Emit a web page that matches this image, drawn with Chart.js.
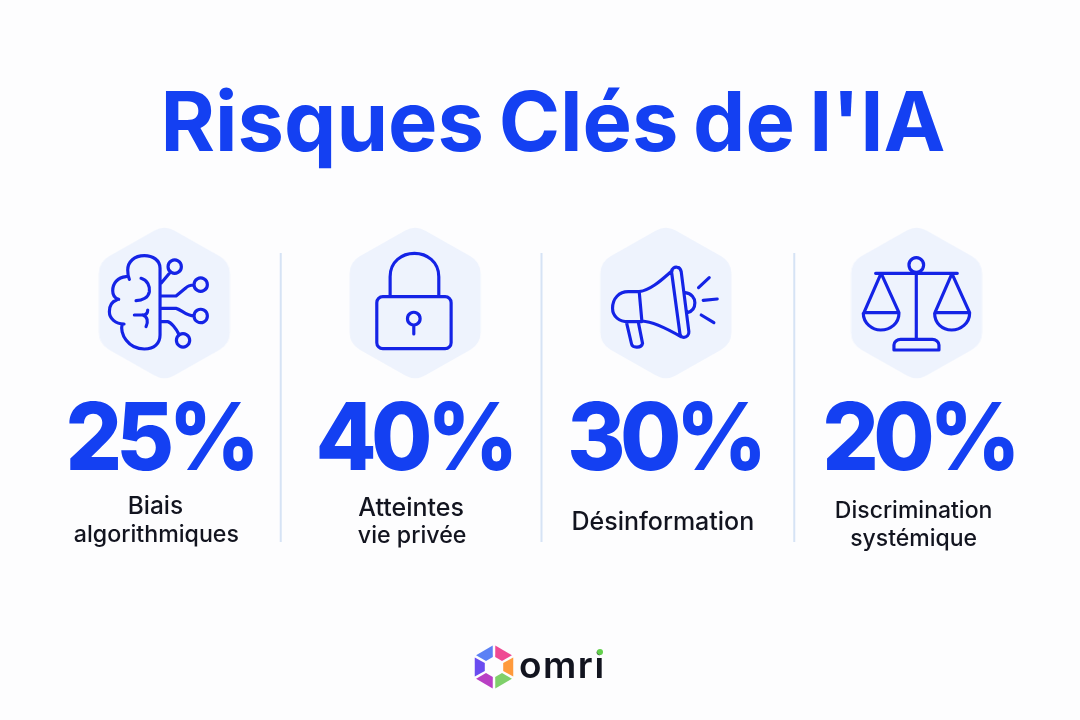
<!DOCTYPE html>
<html lang="fr">
<head>
<meta charset="utf-8">
<title>Risques Clés de l'IA</title>
<script src="https://cdn.jsdelivr.net/npm/chart.js@4"></script>
<style>
html, body { margin: 0; padding: 0; background: #fdfdfe; }
canvas { display: block; }
</style>
</head>
<body>
<canvas id="risksChart" width="1080" height="720"></canvas>
<script>
// ==================== DATA ====================
const chartTitle = "Risques Clés de l'IA";
const categories = ['Biais algorithmiques', 'Atteintes vie privée', 'Désinformation', 'Discrimination systémique'];
const riskValues = [25, 40, 30, 20];
const labelLines = [['Biais', 'algorithmiques'], ['Atteintes', 'vie privée'], ['Désinformation'], ['Discrimination', 'systémique']];
const brandName = 'omri';

// ==================== STYLE ====================
const BLUE = '#1440f2';
const ICON_BLUE = '#1423e6';
const INK = '#12141f';
const HEX_FILL = '#eef3fd';
const DIVIDER = '#d6e3f5';
const FONT = 'Inter, "Noto Sans", sans-serif';

// tweaks per column, px from the column centre
const numberShift = [-4.5, -1, -1.5, 2];
const labelShift = [[-9, -8], [-4, -3], [-3], [-3, -3]];
const labelBaselines = [[514, 542], [516, 543], [530], [518, 546]];
const labelSizes = [[24.4, 23.2], [25, 23.2], [25], [23, 23]];
const dividerShift = [-9, 1, 3];

// icons are svg paths measured on a 3x crop, origin is the hexagon centre in that crop
const ICONS = [
    { origin: [255, 249], path: 'M242 345V145C242 120 220 107 195 107C165 107 145 125 145 150C145 160 146 170 150 178M140 170C115 172 100 190 100 212C100 225 107 235 118 238M112 240C97 245 90 260 90 275C90 295 108 312 134 312M128 315C125 325 128 345 140 360C155 380 175 387 195 387C225 387 242 370 242 345M185 175C205 180 212 200 210 215C207 232 190 242 170 242M165 285H190C203 285 205 275 205 270M190 285C205 290 207 305 200 320M245 190L274 155M306 140A20 20 0 1 1 306 139.9M245 228H290L318 205C325 197 335 195 344 195M384 194A20 20 0 1 1 384 193.9M245 265H290C305 268 320 288 344 288M384 288A20 20 0 1 1 384 287.9M245 305H265C275 307 290 325 298 342M331 361A20 20 0 1 1 331 360.9' },
    { origin: [1005, 249], path: 'M930 230V170C930 125 965 100 1003 100C1040 100 1076 125 1076 170V230M908 230H1095A18 18 0 0 1 1113 248V368A18 18 0 0 1 1095 386H908A18 18 0 0 1 890 368V248A18 18 0 0 1 908 230ZM1020 296A19 19 0 1 1 1020 295.9M1001 315V342' },
    { origin: [258, 249], path: 'M178 215H145C118 215 98 235 98 265C98 290 118 305 145 305H185M178 215C215 210 250 175 277 152M178 215L186 303M186 303C220 305 260 325 303 350M275 155C275 145 285 140 292 142C300 142 303 150 304 155L327 335C328 345 320 352 312 352C305 352 300 345 300 340ZM316 218C335 220 345 235 345 248C345 265 335 275 322 278M140 308L155 372C158 385 185 385 188 370L175 305M356 203L388 173M370 241L412 237M364 285L402 308' },
    { origin: [1008, 249], path: 'M1029 135A22 22 0 1 1 1029 134.9M885 160H1130M1007 160V358M940 390V375C940 365 950 358 960 358H1055C1065 358 1075 365 1075 375V390ZM900 163L850 278H955L903 163M848 280C848 310 875 330 900 330C930 330 955 310 955 280M1113 163L1063 278H1167L1115 163M1062 280C1062 310 1085 330 1113 330C1140 330 1167 310 1167 280' }
];
const LOGO_COLORS = ['#ef4a94', '#ff9a3c', '#7fd06a', '#b93fc4', '#6a4cf0', '#5b80f5'];

// ==================== HEXAGON POINT ====================
function makeHexagonImage() {
    const c = document.createElement('canvas');
    c.width = 150; c.height = 170;
    const g = c.getContext('2d');
    const pts = [[0, -78], [65.5, -41], [65.5, 41], [0, 78], [-65.5, 41], [-65.5, -41]];
    g.translate(75, 85);
    g.beginPath();
    g.moveTo(-32.75, -59.5);
    pts.forEach((p, i) => {
        const n = pts[(i + 1) % pts.length];
        g.arcTo(p[0], p[1], n[0], n[1], 20);
    });
    g.closePath();
    g.fillStyle = HEX_FILL;
    g.fill();
    return c;
}

function drawLogo(ctx) {
    const cx = 494, cy = 667, outer = 21.5, inner = 10, gap = 0.06;
    LOGO_COLORS.forEach((color, i) => {
        const a0 = -Math.PI / 2 + i * Math.PI / 3;
        const a1 = a0 + Math.PI / 3;
        ctx.beginPath();
        ctx.moveTo(cx + outer * Math.cos(a0 + gap), cy + outer * Math.sin(a0 + gap));
        ctx.lineTo(cx + outer * Math.cos(a1 - gap), cy + outer * Math.sin(a1 - gap));
        ctx.lineTo(cx + inner * Math.cos(a1 - gap * 2), cy + inner * Math.sin(a1 - gap * 2));
        ctx.lineTo(cx + inner * Math.cos(a0 + gap * 2), cy + inner * Math.sin(a0 + gap * 2));
        ctx.closePath();
        ctx.fillStyle = color;
        ctx.fill();
    });
    ctx.font = '600 37px ' + FONT;
    ctx.textAlign = 'left';
    ctx.fillStyle = INK;
    ctx.letterSpacing = '1.5px';
    ctx.fillText(brandName, 519, 678);
    ctx.letterSpacing = '0px';
    ctx.beginPath();
    ctx.arc(600, 652, 3, 0, Math.PI * 2);
    ctx.fillStyle = '#63d04c';
    ctx.fill();
}

// ==================== INFOGRAPHIC PLUGIN ====================
const infographicPlugin = {
    id: 'infographic',
    afterDatasetsDraw(chart) {
        const ctx = chart.ctx;
        const x = chart.scales.x;
        const area = chart.chartArea;
        const hexPoints = chart.getDatasetMeta(0).data;
        const values = chart.data.datasets[1].data;
        ctx.save();

        // title
        ctx.textBaseline = 'alphabetic';
        ctx.textAlign = 'center';
        ctx.fillStyle = BLUE;
        ctx.font = '700 83px ' + FONT;
        ctx.wordSpacing = '-5px';
        ctx.fillText(chartTitle, 553, 151);
        ctx.wordSpacing = '0px';

        // dividers between the columns
        ctx.strokeStyle = DIVIDER;
        ctx.lineWidth = 2;
        dividerShift.forEach((shift, i) => {
            const px = (x.getPixelForValue(i) + x.getPixelForValue(i + 1)) / 2 + shift;
            ctx.beginPath();
            ctx.moveTo(px, 253);
            ctx.lineTo(px, area.bottom);
            ctx.stroke();
        });

        hexPoints.forEach((pt, i) => {
            // icon
            const icon = ICONS[i];
            ctx.save();
            ctx.translate(pt.x, pt.y);
            ctx.scale(1 / 3, 1 / 3);
            ctx.translate(-icon.origin[0], -icon.origin[1]);
            ctx.strokeStyle = ICON_BLUE;
            ctx.lineWidth = 9.5;
            ctx.lineCap = 'round';
            ctx.lineJoin = 'round';
            ctx.stroke(new Path2D(icon.path));
            ctx.restore();

            // big number, squeezed a little because the original digits are narrower than Inter
            ctx.save();
            ctx.translate(pt.x + numberShift[i], 470);
            ctx.scale(0.945, 1);
            ctx.textAlign = 'center';
            ctx.fillStyle = BLUE;
            ctx.font = '800 94px ' + FONT;
            ctx.letterSpacing = '-6px';
            ctx.fillText(values[i] + '%', 0, 0);
            ctx.restore();

            // label
            ctx.textAlign = 'center';
            ctx.fillStyle = INK;
            labelLines[i].forEach((line, j) => {
                ctx.font = '500 ' + labelSizes[i][j] + 'px ' + FONT;
                ctx.fillText(line, pt.x + labelShift[i][j], labelBaselines[i][j]);
            });
        });

        drawLogo(ctx);
        ctx.restore();
    }
};

// ==================== CHART ====================
new Chart(document.getElementById('risksChart'), {
    type: 'line',
    data: {
        labels: categories,
        datasets: [
            { label: 'Icônes', data: categories.map(() => 1), yAxisID: 'y', showLine: false, pointStyle: makeHexagonImage(), pointRadius: 1, clip: false },
            { label: 'Risque (%)', data: riskValues, yAxisID: 'yValue', showLine: false, pointRadius: 0 }
        ]
    },
    options: {
        responsive: false,
        animation: false,
        layout: { padding: { left: 39, right: 38, top: 303, bottom: 178 } },
        plugins: { legend: { display: false }, tooltip: { enabled: false }, title: { display: false } },
        scales: {
            x: { type: 'category', offset: true, display: false },
            y: { min: 0, max: 1, display: false },
            yValue: { min: 0, max: 100, display: false }
        }
    },
    plugins: [infographicPlugin]
});
</script>
</body>
</html>
